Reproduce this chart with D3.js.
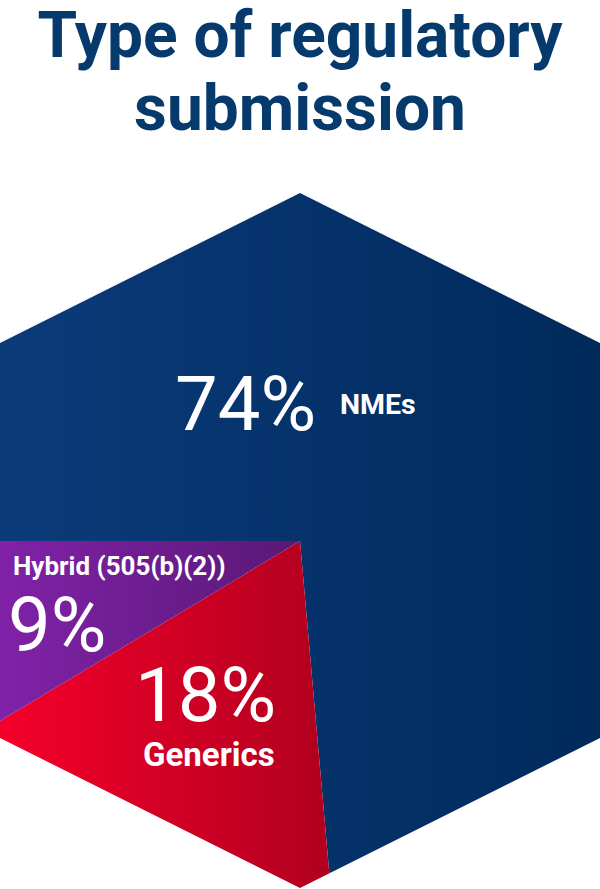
<!DOCTYPE html>
<html>
<head>
<meta charset="utf-8">
<script src="https://cdn.jsdelivr.net/npm/d3@7"></script>
<style>
  html, body { margin: 0; padding: 0; background: #ffffff; }
  svg { display: block; }
</style>
</head>
<body>
<svg id="chart" width="600" height="889"></svg>
<script>
// ---- data ----
const categories = ["NMEs", "Generics", "Hybrid (505(b)(2))"];
const shares = [73.6, 17.8, 8.6];
const titleLines = ["Type of regulatory", "submission"];

// ---- layout / style ----
const W = 600, H = 889;
const cx = 300, cy = 541;
const colors = [
  ["#0b3b7b", "#002a5b"],
  ["#f5002b", "#b0001f"],
  ["#8022a8", "#5a1876"]
];
const gradRange = [[0, 600], [0, 335], [0, 300]];

const svg = d3.select("#chart");
const defs = svg.append("defs");

colors.forEach((c, i) => {
  const g = defs.append("linearGradient")
    .attr("id", "grad" + i)
    .attr("gradientUnits", "userSpaceOnUse")
    .attr("x1", gradRange[i][0] - cx).attr("x2", gradRange[i][1] - cx)
    .attr("y1", 0).attr("y2", 0);
  g.append("stop").attr("offset", "0%").attr("stop-color", c[0]);
  g.append("stop").attr("offset", "100%").attr("stop-color", c[1]);
});

// hexagon clip
const hex = [[300, 193], [600, 343], [600, 738], [300, 888], [0, 738], [0, 343]];
defs.append("clipPath").attr("id", "hexclip")
  .append("path")
  .attr("d", d3.line()(hex) + "Z");

// title
svg.append("g").selectAll("text")
  .data(titleLines)
  .join("text")
  .attr("x", W / 2)
  .attr("y", (d, i) => 57 + i * 73)
  .attr("text-anchor", "middle")
  .attr("font-family", "Roboto, 'Noto Sans', sans-serif")
  .attr("font-weight", 700)
  .attr("font-size", 64)
  .attr("fill", "#063a6c")
  .text(d => d);

// pie
const pie = d3.pie().sort(null).value(d => d)
  .startAngle(-Math.PI / 2).endAngle(1.5 * Math.PI);
const arc = d3.arc().innerRadius(0).outerRadius(700);

svg.append("g")
  .attr("clip-path", "url(#hexclip)")
  .append("g")
  .attr("transform", `translate(${cx},${cy})`)
  .selectAll("path")
  .data(pie(shares))
  .join("path")
  .attr("d", arc)
  .attr("fill", (d, i) => `url(#grad${i})`);

// labels
const big = { size: 76, weight: 400 };
const labelSpec = [
  { pct: [175, 430], name: [340, 414], nameSize: 28.5 },
  { pct: [135, 721], name: [143, 766], nameSize: 33 },
  { pct: [8, 651], name: [13, 575], nameSize: 26 }
];
const lg = svg.append("g")
  .attr("font-family", "Roboto, 'Noto Sans', sans-serif")
  .attr("fill", "#ffffff");

shares.forEach((v, i) => {
  const s = labelSpec[i];
  lg.append("text")
    .attr("x", s.pct[0]).attr("y", s.pct[1])
    .attr("font-size", big.size)
    .attr("font-weight", big.weight)
    .text(Math.round(v) + "%");
  lg.append("text")
    .attr("x", s.name[0]).attr("y", s.name[1])
    .attr("font-size", s.nameSize)
    .attr("font-weight", 700)
    .text(categories[i]);
});
</script>
</body>
</html>
